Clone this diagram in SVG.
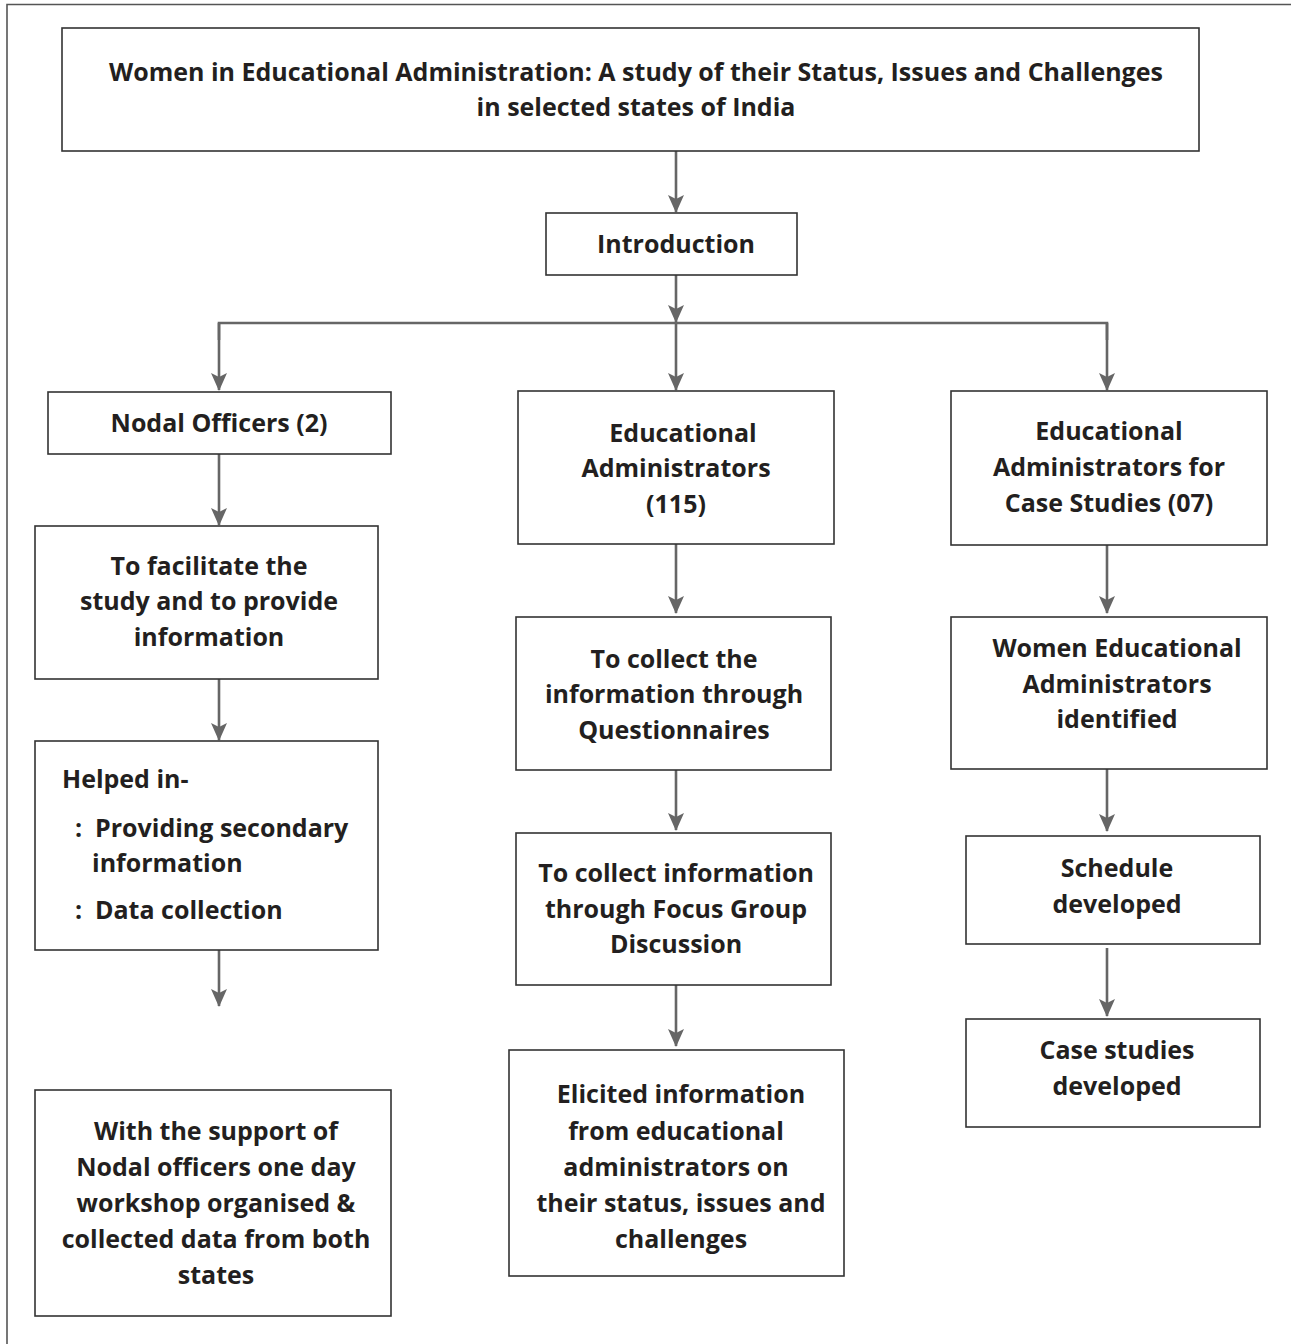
<svg xmlns="http://www.w3.org/2000/svg" width="1291" height="1344" viewBox="0 0 1291 1344">
<defs>
<style>
.box{fill:#fff;stroke:#333;stroke-width:1.6}
.t{font-family:"Open Sans","Noto Sans","Liberation Sans",sans-serif;font-weight:700;font-size:25px;fill:#231f20;text-anchor:middle;dominant-baseline:central}
.l{text-anchor:start}
.c{fill:none;stroke:#666;stroke-width:2.6}
</style>
<marker id="ah" markerWidth="18" markerHeight="16" viewBox="0 0 18 16" refX="17" refY="8" orient="auto" markerUnits="userSpaceOnUse">
<path d="M0,0 L18,8 L0,16 L4,8 Z" fill="#666"/>
</marker>
</defs>
<rect width="1291" height="1344" fill="#fff"/>
<path d="M7,1344 V4.5 H1291" fill="none" stroke="#555" stroke-width="1.6"/>
<g id="connectors">
<path class="c" d="M676,151 V212" marker-end="url(#ah)"/>
<path class="c" d="M676,275 V322" marker-end="url(#ah)"/>
<path class="c" d="M219,340 V323 H1107 V340"/>
<path class="c" d="M219,323 V390" marker-end="url(#ah)"/>
<path class="c" d="M1107,323 V390" marker-end="url(#ah)"/>
<path class="c" d="M676,323 V390" marker-end="url(#ah)"/>
<path class="c" d="M219,454 V525" marker-end="url(#ah)"/>
<path class="c" d="M219,679 V740" marker-end="url(#ah)"/>
<path class="c" d="M219,950 V1006" marker-end="url(#ah)"/>
<path class="c" d="M676,544 V613" marker-end="url(#ah)"/>
<path class="c" d="M676,770 V830" marker-end="url(#ah)"/>
<path class="c" d="M676,985 V1046" marker-end="url(#ah)"/>
<path class="c" d="M1107,545 V613" marker-end="url(#ah)"/>
<path class="c" d="M1107,762 V831" marker-end="url(#ah)"/>
<path class="c" d="M1107,948 V1016" marker-end="url(#ah)"/>
</g>
<g id="title"><rect class="box" x="62" y="28" width="1137" height="123"/>
<text class="t" x="636" y="71">Women in Educational Administration: A study of their Status, Issues and Challenges</text>
<text class="t" x="636" y="106">in selected states of India</text></g>
<g id="intro"><rect class="box" x="546" y="213" width="251" height="62"/>
<text class="t" x="676" y="243">Introduction</text></g>
<g id="nodal"><rect class="box" x="48" y="392" width="343" height="62"/>
<text class="t" x="219" y="422">Nodal Officers (2)</text></g>
<g id="ea"><rect class="box" x="518" y="391" width="316" height="153"/>
<text class="t" x="683" y="432">Educational</text>
<text class="t" x="676" y="467">Administrators</text>
<text class="t" x="676" y="503">(115)</text></g>
<g id="case"><rect class="box" x="951" y="391" width="316" height="154"/>
<text class="t" x="1109" y="430">Educational</text>
<text class="t" x="1109" y="466">Administrators for</text>
<text class="t" x="1109" y="502">Case Studies (07)</text></g>
<g id="facilitate"><rect class="box" x="35" y="526" width="343" height="153"/>
<text class="t" x="209" y="565">To facilitate the</text>
<text class="t" x="209" y="600">study and to provide</text>
<text class="t" x="209" y="636">information</text></g>
<g id="helped"><rect class="box" x="35" y="741" width="343" height="209"/>
<text class="t l" x="62" y="778">Helped in-</text>
<text class="t l" y="827"><tspan x="75">:</tspan><tspan x="95">Providing secondary</tspan></text>
<text class="t l" x="92" y="862">information</text>
<text class="t l" y="909"><tspan x="75">:</tspan><tspan x="95">Data collection</tspan></text></g>
<g id="workshop"><rect class="box" x="35" y="1090" width="356" height="226"/>
<text class="t" x="216" y="1130">With the support of</text>
<text class="t" x="216" y="1166">Nodal officers one day</text>
<text class="t" x="216" y="1202">workshop organised &amp;</text>
<text class="t" x="216" y="1238">collected data from both</text>
<text class="t" x="216" y="1274">states</text></g>
<g id="questionnaire"><rect class="box" x="516" y="617" width="315" height="153"/>
<text class="t" x="674" y="658">To collect the</text>
<text class="t" x="674" y="693">information through</text>
<text class="t" x="674" y="729">Questionnaires</text></g>
<g id="fgd"><rect class="box" x="516" y="833" width="315" height="152"/>
<text class="t" x="676" y="872">To collect information</text>
<text class="t" x="676" y="908">through Focus Group</text>
<text class="t" x="676" y="943">Discussion</text></g>
<g id="elicited"><rect class="box" x="509" y="1050" width="335" height="226"/>
<text class="t" x="681" y="1093">Elicited information</text>
<text class="t" x="676" y="1130">from educational</text>
<text class="t" x="676" y="1166">administrators on</text>
<text class="t" x="681" y="1202">their status, issues and</text>
<text class="t" x="681" y="1238">challenges</text></g>
<g id="women"><rect class="box" x="951" y="617" width="316" height="152"/>
<text class="t" x="1117" y="647">Women Educational</text>
<text class="t" x="1117" y="683">Administrators</text>
<text class="t" x="1117" y="718">identified</text></g>
<g id="schedule"><rect class="box" x="966" y="836" width="294" height="108"/>
<text class="t" x="1117" y="867">Schedule</text>
<text class="t" x="1117" y="903">developed</text></g>
<g id="casestudies"><rect class="box" x="966" y="1019" width="294" height="108"/>
<text class="t" x="1117" y="1049">Case studies</text>
<text class="t" x="1117" y="1085">developed</text></g>
</svg>
